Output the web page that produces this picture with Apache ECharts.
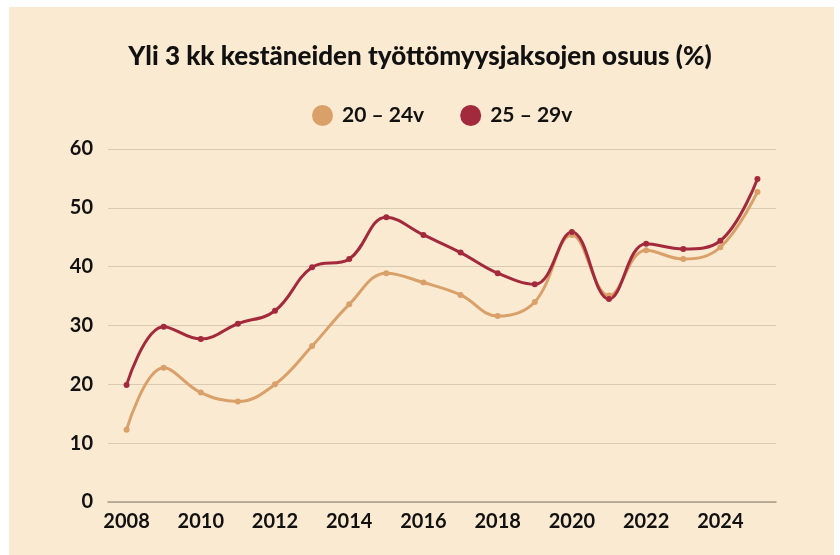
<!DOCTYPE html>
<html><head><meta charset="utf-8">
<script src="https://cdn.jsdelivr.net/npm/echarts@6/dist/echarts.min.js"></script>
<style>
html,body{margin:0;padding:0;background:#fff;width:840px;height:555px;overflow:hidden}
#bg{position:absolute;left:9px;top:7px;width:825px;height:548px;background:#FBEAD2}
#chart{position:absolute;left:0;top:0;width:840px;height:555px}
</style></head>
<body><div id="bg"></div><div id="chart"></div>
<script>
const years = ['2008','2009','2010','2011','2012','2013','2014','2015','2016','2017','2018','2019','2020','2021','2022','2023','2024','2025'];
const age20_24 = [12.3,22.8,18.6,17.1,20.0,26.5,33.6,38.9,37.3,35.2,31.6,34.0,45.4,35.1,42.8,41.3,43.3,52.7];
const age25_29 = [19.9,29.8,27.7,30.3,32.5,39.9,41.3,48.4,45.4,42.4,38.9,37.0,45.9,34.5,43.9,43.0,44.4,54.9];
const seriesNames = ['20 – 24v','25 – 29v'];
const colors = ['#D9A06A','#A3293C'];
const yTicks = {min:0,max:60,interval:10};

const chart = echarts.init(document.getElementById('chart'),null,{renderer:'canvas'});
const font = 'Lato, "Open Sans", sans-serif';
chart.setOption({
  backgroundColor:'transparent',
  animation:false,
  title:{text:'Yli 3 kk kestäneiden työttömyysjaksojen osuus (%)',left:'center',top:39,
    textStyle:{fontFamily:font,fontWeight:900,fontSize:26,color:'#111'}},
  legend:{top:100,left:307,itemWidth:21,itemHeight:21,itemGap:36,icon:'circle',
    textStyle:{fontFamily:font,fontSize:21,fontWeight:'bold',color:'#111',padding:[0,0,0,4]},
    data:seriesNames},
  grid:{left:108,right:64,top:149,bottom:53,containLabel:false},
  xAxis:{type:'category',data:years,boundaryGap:true,
    axisLine:{lineStyle:{color:'#A89C8C',width:1.5}},axisTick:{show:false},
    axisLabel:{interval:1,fontFamily:font,fontSize:20,fontWeight:'bold',color:'#111',margin:10}},
  yAxis:{type:'value',min:yTicks.min,max:yTicks.max,interval:yTicks.interval,
    axisLine:{show:false},axisTick:{show:false},
    splitLine:{lineStyle:{color:'#D9CAB4',width:1.2}},
    axisLabel:{fontFamily:font,fontSize:20,fontWeight:'bold',color:'#111',margin:15}},
  series:[
    {name:seriesNames[0],type:'line',data:age20_24,smooth:0.4,symbol:'circle',symbolSize:6,
     color:colors[0],lineStyle:{width:3,color:colors[0]},itemStyle:{color:colors[0]}},
    {name:seriesNames[1],type:'line',data:age25_29,smooth:0.4,symbol:'circle',symbolSize:6,
     color:colors[1],lineStyle:{width:3,color:colors[1]},itemStyle:{color:colors[1]}}
  ]
});
</script></body></html>
